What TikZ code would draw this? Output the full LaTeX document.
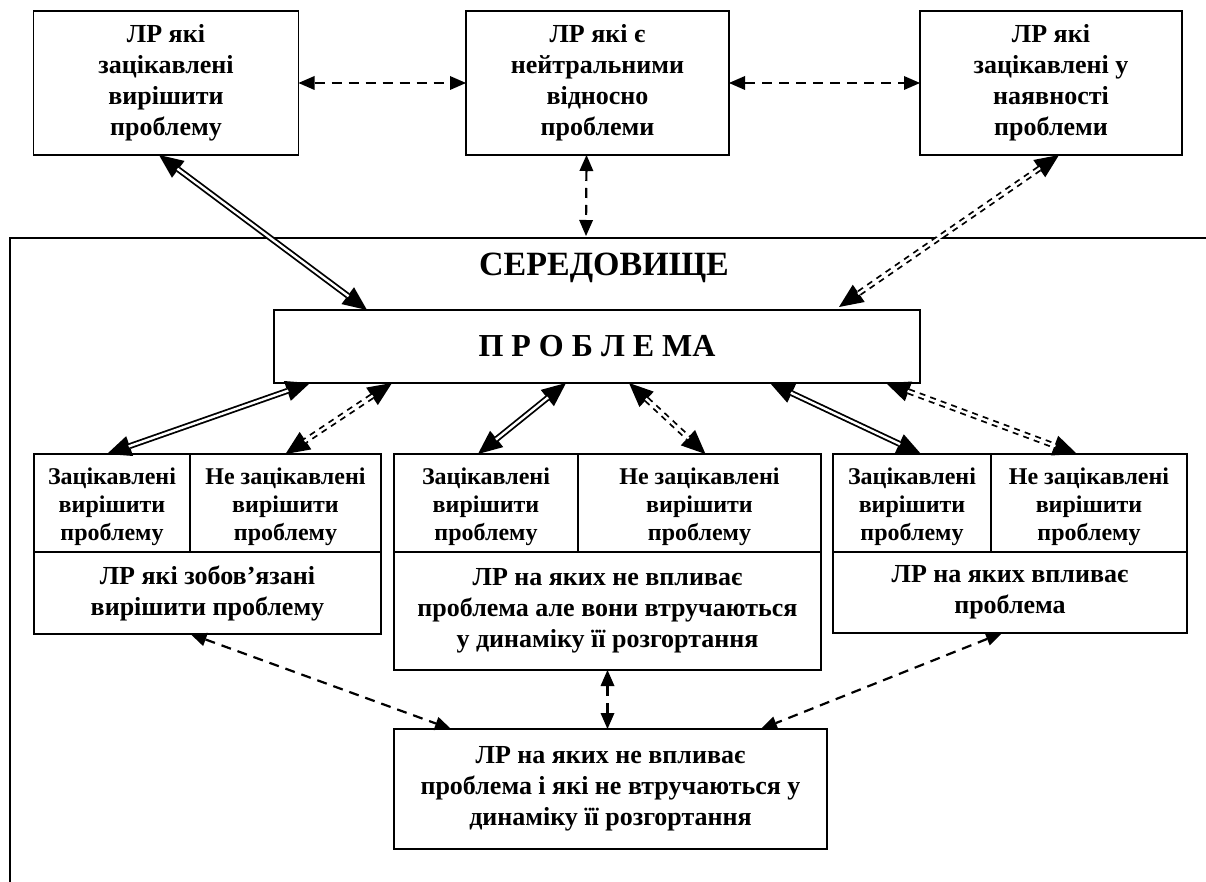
\documentclass[tikz,border=0pt]{standalone}
\usepackage{fontspec}
\setmainfont{Liberation Serif}
\usetikzlibrary{positioning, calc, arrows.meta}

\newcommand{\cellstrut}{\rule{0pt}{12pt}}

\tikzset{
  box/.style={draw, line width=0.8pt, inner sep=0pt, outer sep=0pt, align=center,
    font=\bfseries\fontsize{13}{15.5}\selectfont},
  cell/.style={box, minimum height=49pt,
    font=\bfseries\fontsize{12}{13.8}\selectfont},
  lowbox/.style={box, anchor=north west},
  envline/.style={line width=1.3pt},
  dash arrow/.style={line width=1.1pt, dash pattern=on 5pt off 3.5pt,
    {Triangle[length=8pt 0,width=7pt 0,line width=0pt]}-{Triangle[length=8pt 0,width=7pt 0,line width=0pt]}},
  dbl arrow/.style={line width=3pt,
    {Triangle[length=12pt 0,width=10.5pt 0,line width=0pt]}-{Triangle[length=12pt 0,width=10.5pt 0,line width=0pt]},
    postaction={draw=white, solid, line width=1.2pt, arrows=-,
      shorten <=11.5pt, shorten >=11.5pt}},
  dbl dash/.style={dbl arrow, dash pattern=on 3pt off 2.6pt},
}

\begin{document}
\begin{tikzpicture}[x=0.5pt, y=-0.5pt]
\useasboundingbox (0,0) rectangle (1206,882);

% environment frame
\draw[envline] (1206,238) -| (10,882);
\coordinate (envtop) at (586,236);
\node[font=\bfseries\fontsize{17}{19}\selectfont] (env) at (604,268) {СЕРЕДОВИЩЕ};

% top row
\node[box, minimum width=132.5pt, minimum height=72pt] (tl) at (166,83)
    {ЛР які\\зацікавлені\\вирішити\\проблему};
\node[box, minimum width=131.5pt, minimum height=72pt, right=83.75pt of tl] (tm)
    {ЛР які є\\нейтральними\\відносно\\проблеми};
\node[box, minimum width=131pt, minimum height=72pt, right=95.5pt of tm] (tr)
    {ЛР які\\зацікавлені у\\наявності\\проблеми};

% problem
\node[box, minimum width=323pt, minimum height=36.5pt,
    font=\bfseries\fontsize{16}{18}\selectfont] (pr) at (597,346.5)
    {П Р О Б Л Е МА};

% left group
\node[cell, anchor=north west, minimum width=78pt] (lba) at (34,454)
    {\cellstrut Зацікавлені\\вирішити\\проблему};
\node[cell, minimum width=95.5pt, right=0pt of lba] (lbb)
    {\cellstrut Не зацікавлені\\вирішити\\проблему};
\node[lowbox, minimum width=173.5pt, minimum height=41pt] (lbc) at (lba.south west)
    {ЛР які зобов’язані\\вирішити проблему};

% middle group
\node[cell, minimum width=92pt, right=6.5pt of lbb] (mba)
    {\cellstrut Зацікавлені\\вирішити\\проблему};
\node[cell, minimum width=121.5pt, right=0pt of mba] (mbb)
    {\cellstrut Не зацікавлені\\вирішити\\проблему};
\node[lowbox, minimum width=213.5pt, minimum height=59pt] (mbc) at (mba.south west)
    {ЛР на яких не впливає\\проблема але вони втручаються\\у динаміку її розгортання};

% right group
\node[cell, minimum width=79pt, right=6pt of mbb] (rba)
    {\cellstrut Зацікавлені\\вирішити\\проблему};
\node[cell, minimum width=98pt, right=0pt of rba] (rbb)
    {\cellstrut Не зацікавлені\\вирішити\\проблему};
\node[lowbox, minimum width=177pt, minimum height=40.5pt] (rbc) at (rba.south west)
    {ЛР на яких впливає\\проблема};

% bottom
\node[box, minimum width=216.5pt, minimum height=60pt] (bb) at (610.5,789)
    {ЛР на яких не впливає\\проблема і які не втручаються у\\динаміку її розгортання};

\draw
    (tl.east) edge[dash arrow] (tm.west)
    (tm.east) edge[dash arrow] (tr.west)
    ($(tm.south)+(-11,0)$) edge[dash arrow] (envtop)
    ($(tl.south)+(-7,0)$) edge[dbl arrow] ($(pr.north west)+(93,0)$)
    ($(tr.south)+(8,0)$) edge[dbl dash] ($(pr.north east)+(-81,-3)$)
    ($(pr.south west)+(36,0)$) edge[dbl arrow] ($(lba.north west)+(73,0)$)
    ($(pr.south west)+(118,0)$) edge[dbl dash] (lbb.north)
    ($(pr.south west)+(292,0)$) edge[dbl arrow] ($(mba.north)+(-8,0)$)
    ($(pr.south west)+(355,0)$) edge[dbl dash] ($(mbb.north)+(6,0)$)
    ($(pr.south east)+(-150,0)$) edge[dbl arrow] ($(rba.north)+(9,0)$)
    ($(pr.south east)+(-34,0)$) edge[dbl dash] ($(rbb.north)+(-12,0)$)
    ($(lbc.south)+(-17,0)$) edge[dash arrow] ($(bb.north west)+(57,0)$)
    (mbc.south) edge[dash arrow] (mbc.south |- bb.north)
    ($(rbc.south)+(-8,0)$) edge[dash arrow] ($(bb.north east)+(-66,0)$)
    ;
\end{tikzpicture}
\end{document}
